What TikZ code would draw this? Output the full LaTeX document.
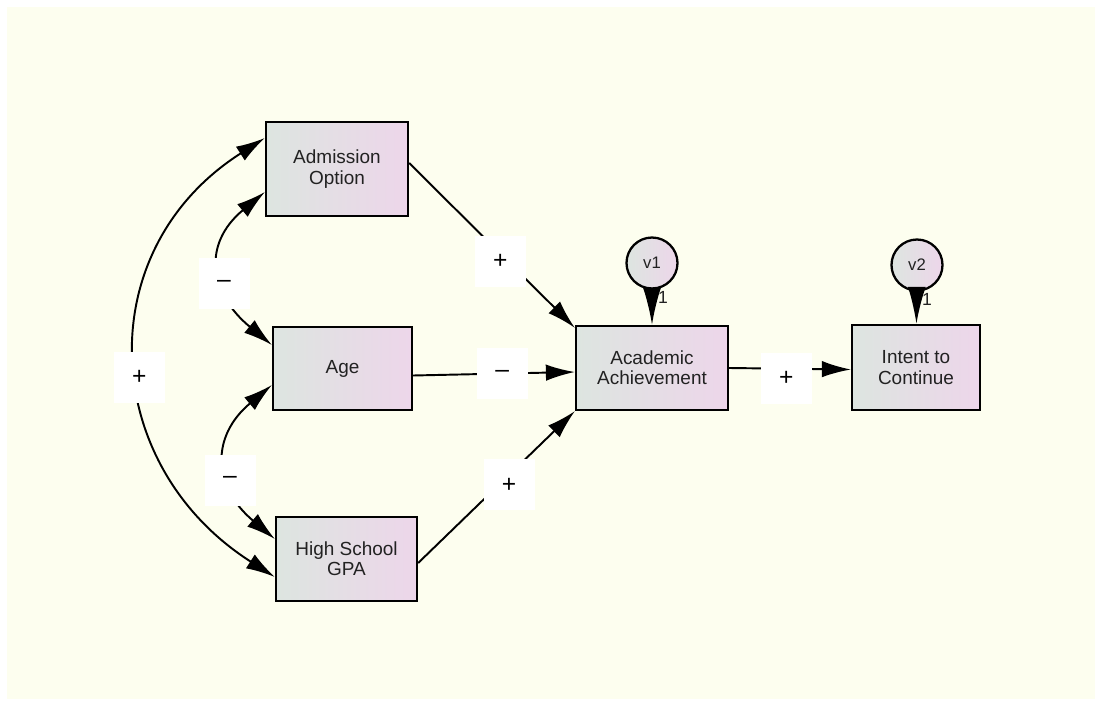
\documentclass[tikz,border=0pt]{standalone}
\usepackage{fontspec}
\setmainfont{Liberation Sans}
\usetikzlibrary{arrows.meta,calc}

\definecolor{paper}{HTML}{FDFEEF}
\definecolor{boxleft}{HTML}{DDE5E0}
\definecolor{boxright}{HTML}{EDD6EA}
\definecolor{ink}{HTML}{222222}

\tikzset{
  obs/.style={draw=black, line width=1.3pt, left color=boxleft, right color=boxright,
    align=center, inner sep=0pt, text=ink, font=\fontsize{10.8}{11.5}\selectfont},
  err/.style={circle, draw=black, line width=1.3pt, left color=boxleft, right color=boxright,
    minimum size=1.02cm, inner sep=0pt, text=ink, font=\fontsize{9.5}{10}\selectfont},
  sgn/.style={fill=white, minimum size=1.02cm, inner sep=0pt, text=black,
    font=\fontsize{14}{14}\selectfont},
  one/.style={inner sep=0pt, text=ink, font=\fontsize{10}{10}\selectfont},
  path/.style={line width=1.1pt, >={Latex[length=0.58cm,width=0.33cm]}},
  errpath/.style={line width=1.1pt, >={Latex[length=0.74cm,width=0.36cm]}}
}

\begin{document}
\begin{tikzpicture}[x=0.02cm, y=-0.02cm]
  % frame: white margin round the cream sheet
  \useasboundingbox (0,0) rectangle (1102,706);
  \fill[white] (0,0) rectangle (1102,706);
  \fill[paper] (7,7) rectangle (1095,699);

  % exogenous variables on the left
  \node[obs, minimum width=2.84cm, minimum height=1.88cm] (adm) at (337,169) {Admission\\Option};
  \node[obs, minimum width=2.78cm, minimum height=1.66cm] (age) at (342.5,368.5) {Age};
  \node[obs, minimum width=2.82cm, minimum height=1.68cm] (gpa) at (346.5,559) {High School\\GPA};

  % endogenous variables with their error terms
  \node[obs, minimum width=3.04cm, minimum height=1.68cm] (acad) at (652,368) {Academic\\Achievement};
  \node[obs, minimum width=2.56cm, minimum height=1.70cm] (intent) at (916,367.5) {Intent to\\Continue};
  \node[err] (v1) at (652,263) {v1};
  \node[err] (v2) at (917,265) {v2};

  % error paths, fixed to 1
  \draw[errpath, ->] (v1) -- (acad);
  \draw[errpath, ->] (v2) -- (intent);
  \node[one] (w1) at ($(v1.south)+(11,8)$) {1};
  \node[one] (w2) at ($(v2.south)+(10,8)$) {1};

  % covariances between the exogenous variables
  \draw[path, <->] ($(adm.west)+(0,23)$) .. controls +(-63,52) and +(-63,-52) .. ($(age.west)+(0,-23.5)$)
    node[sgn, pos=0.6] (c1) {--};
  \draw[path, <->] ($(age.west)+(0,16.5)$) .. controls +(-62,52) and +(-62,-52) .. ($(gpa.west)+(0,-20)$)
    node[sgn, pos=0.62] (c2) {--};
  \draw[path, <->] ($(adm.west)+(0,-31)$) .. controls +(-176,112) and +(-176,-112) .. ($(gpa.west)+(0,18)$)
    node[sgn, pos=0.54] (c3) {+};

  % regression paths
  \draw[path, ->] ($(adm.east)+(0,-6)$) -- ($(acad.north west)+(0,3)$)
    node[sgn, pos=0.55, yshift=-0.16cm] (p1) {+};
  \draw[path, ->] ($(age.east)+(0,7)$) -- ($(acad.west)+(0,4)$)
    node[sgn, pos=0.55] (p2) {--};
  \draw[path, ->] ($(gpa.east)+(0,4)$) -- (acad.south west)
    node[sgn, pos=0.58, yshift=-0.2cm] (p3) {+};
  \draw[path, ->] (acad.east) -- ($(intent.west)+(0,2)$)
    node[sgn, pos=0.47, yshift=-0.2cm] (p4) {+};
\end{tikzpicture}
\end{document}
